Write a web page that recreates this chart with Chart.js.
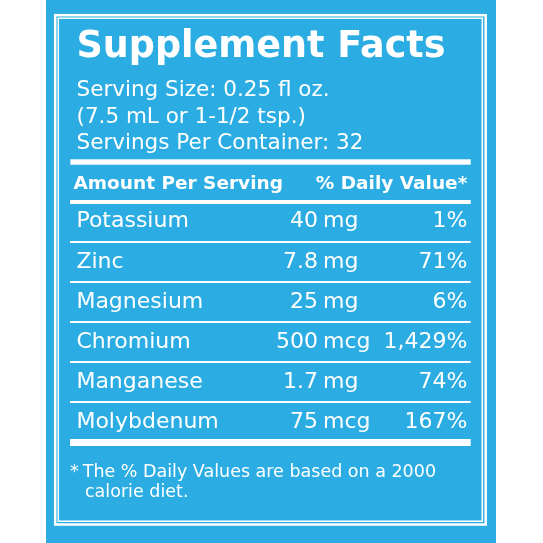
<!DOCTYPE html>
<html>
<head>
<meta charset="utf-8">
<script src="https://cdn.jsdelivr.net/npm/chart.js@4.4.1/dist/chart.umd.min.js"></script>
<style>
  html, body { margin: 0; padding: 0; background: #fff; }
  #factsChart { display: block; }
</style>
</head>
<body>
<canvas id="factsChart" width="543" height="543"></canvas>
<script>
var nutrients = ['Potassium', 'Zinc', 'Magnesium', 'Chromium', 'Manganese', 'Molybdenum'];
var amounts = [40, 7.8, 25, 500, 1.7, 75];
var units = ['mg', 'mg', 'mg', 'mcg', 'mg', 'mcg'];
var dailyValues = [1, 71, 6, 1429, 74, 167];
var servingLines = ['Serving Size: 0.25 fl oz.', '(7.5 mL or 1-1/2 tsp.)', 'Servings Per Container: 32'];
var footnoteLines = ['The % Daily Values are based on a 2000', 'calorie diet.'];

var blue = '#2BADE3';
var fontFamily = "'DejaVu Sans', sans-serif";

// panel, borders and all the text that isn't a y tick
var labelPlugin = {
    id: 'labelPlugin',
    beforeDraw: function (chart) {
        var c = chart.ctx;
        c.save();
        c.fillStyle = '#fff';
        c.fillRect(0, 0, chart.width, chart.height);
        c.fillStyle = blue;
        c.fillRect(46, 0, 450, chart.height);
        c.strokeStyle = '#fff';
        c.lineWidth = 2.5;
        c.strokeRect(55.2, 15.2, 430.5, 509.3);
        c.lineWidth = 1.5;
        c.strokeRect(58.3, 18.2, 424, 503);
        c.restore();
    },
    afterDraw: function (chart) {
        var c = chart.ctx;
        var area = chart.chartArea;
        var yScale = chart.scales.y;
        c.save();
        c.fillStyle = '#fff';
        c.textBaseline = 'alphabetic';
        c.textAlign = 'left';

        c.font = 'bold 36.5px ' + fontFamily;
        c.fillText('Supplement Facts', 76.5, 56.7);

        c.font = '21.5px ' + fontFamily;
        for (var i = 0; i < servingLines.length; i++) {
            c.fillText(servingLines[i], 76.5, 96 + i * 26.7);
        }

        c.fillRect(area.left, 159.3, area.right - area.left, 5.4);

        c.font = 'bold 18.5px ' + fontFamily;
        c.fillText('Amount Per Serving', 73.5, 189.3);
        c.textAlign = 'right';
        c.fillText('% Daily Value*', 467.3, 189.3);

        c.font = '22px ' + fontFamily;
        c.textBaseline = 'middle';
        for (var j = 0; j < nutrients.length; j++) {
            var py = yScale.getPixelForValue(j);
            c.textAlign = 'right';
            c.fillText(String(amounts[j]), 318, py);
            c.fillText(dailyValues[j].toLocaleString('en-US') + '%', 467.3, py);
            c.textAlign = 'left';
            c.fillText(units[j], 323, py);
        }

        c.textBaseline = 'alphabetic';
        c.textAlign = 'left';
        c.font = '17.5px ' + fontFamily;
        c.fillText('*', 70, 476.7);
        c.fillText(footnoteLines[0], 82.7, 476.7);
        c.fillText(footnoteLines[1], 85, 496.7);
        c.restore();
    }
};

var factsChart = new Chart(document.getElementById('factsChart'), {
    type: 'bar',
    data: {
        labels: nutrients,
        datasets: [{
            label: '% Daily Value',
            data: dailyValues,
            backgroundColor: 'rgba(0,0,0,0)',
            borderWidth: 0
        }]
    },
    options: {
        indexAxis: 'y',
        responsive: false,
        animation: false,
        events: [],
        layout: {
            padding: { left: 58.4, right: 72.3, top: 201.7, bottom: 100.5 }
        },
        plugins: {
            legend: { display: false },
            tooltip: { enabled: false }
        },
        scales: {
            x: { display: false, min: 0 },
            y: {
                type: 'category',
                offset: true,
                border: { display: false },
                grid: {
                    offset: true,
                    color: '#fff',
                    drawTicks: false,
                    lineWidth: function (ctx) {
                        if (ctx.index === 0) return 4;
                        if (ctx.index === undefined) return 7;
                        return 2;
                    }
                },
                ticks: {
                    mirror: true,
                    padding: 6,
                    crossAlign: 'near',
                    color: '#fff',
                    font: { family: fontFamily, size: 22 }
                }
            }
        }
    },
    plugins: [labelPlugin]
});
</script>
</body>
</html>
